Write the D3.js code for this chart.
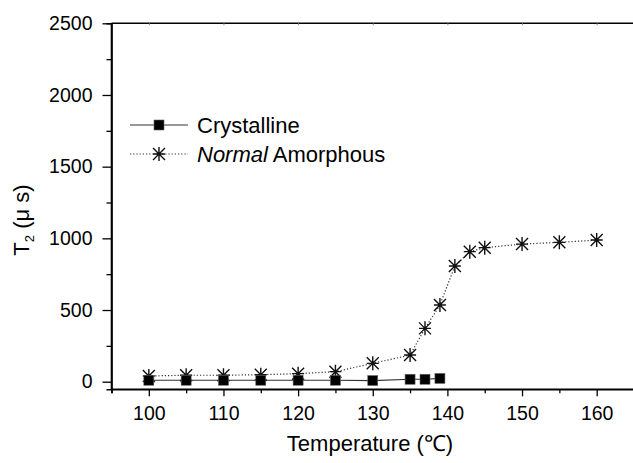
<!DOCTYPE html>
<html>
<head>
<meta charset="utf-8">
<script src="https://cdn.jsdelivr.net/npm/d3@7/dist/d3.min.js"></script>
<style>
  html, body { margin: 0; padding: 0; background: #fff; }
  svg { display: block; font-family: "Liberation Sans", Arial, Helvetica, sans-serif; }
</style>
</head>
<body>
<svg id="chart" width="633" height="463"></svg>
<script>
// Temperature points (°C)
const crystTemps = [100, 105, 110, 115, 120, 125, 130, 135, 137, 139];
const crystT2    = [10, 10, 10, 10, 10, 10, 8, 17, 17, 23];

const amorTemps = [100, 105, 110, 115, 120, 125, 130, 135, 137, 139, 141, 143, 145, 150, 155, 160];
const amorT2    = [40, 45, 45, 49, 56, 70, 128, 186, 372, 535, 807, 907, 935, 960, 972, 988];

const xMajorTicks = [100, 110, 120, 130, 140, 150, 160];
const xMinorTicks = [95, 105, 115, 125, 135, 145, 155, 165];
const yMajorTicks = [0, 500, 1000, 1500, 2000, 2500];
const yMinorTicks = [250, 750, 1250, 1750, 2250];

const FONT = '"Liberation Sans", Arial, Helvetica, sans-serif';
const svg = d3.select("#chart");

const x = d3.scaleLinear().domain([95, 165]).range([111.5, 634]);
const y = d3.scaleLinear().domain([-53, 2500]).range([389.3, 23.3]);

const axisColor = "#000";

// bottom axis: minor then major ticks
const gxMinor = svg.append("g").attr("transform", `translate(0,${y.range()[0]})`)
  .call(d3.axisBottom(x).tickValues(xMinorTicks).tickSize(4).tickFormat(""));
const gx = svg.append("g").attr("transform", `translate(0,${y.range()[0]})`)
  .call(d3.axisBottom(x).tickValues(xMajorTicks).tickSize(7).tickPadding(10).tickFormat(d3.format("d")));

// left axis
const gyMinor = svg.append("g").attr("transform", `translate(${x.range()[0]},0)`)
  .call(d3.axisLeft(y).tickValues(yMinorTicks).tickSize(5).tickFormat(""));
const gy = svg.append("g").attr("transform", `translate(${x.range()[0]},0)`)
  .call(d3.axisLeft(y).tickValues(yMajorTicks).tickSize(9).tickPadding(10).tickFormat(d3.format("d")));

[gxMinor, gx, gyMinor, gy].forEach(g => {
  g.attr("font-family", FONT).attr("font-size", 19.5);
  g.select(".domain").attr("stroke", axisColor).attr("stroke-width", 1.6);
  g.selectAll(".tick line").attr("stroke", axisColor).attr("stroke-width", 1.3);
  g.selectAll(".tick text").attr("fill", "#000");
});
gx.select(".domain").attr("d", `M${x.range()[0]},0H${x.range()[1]}`);
gy.select(".domain").attr("d", `M0,${y.range()[0]}V${y.range()[1]}`);

// top frame line with tiny inner ticks
const gTop = svg.append("g").attr("transform", `translate(0,${y.range()[1]})`)
  .call(d3.axisTop(x).tickValues(xMajorTicks).tickSize(-2).tickFormat(""));
gTop.select(".domain").attr("d", `M${x.range()[0]},0H${x.range()[1]}`)
  .attr("stroke", axisColor).attr("stroke-width", 1.6);
gTop.selectAll(".tick line").attr("stroke", "#888").attr("stroke-width", 1);

// axis titles
svg.append("text")
  .attr("x", 370).attr("y", 451)
  .attr("text-anchor", "middle")
  .style("font-size", "22px")
  .text("Temperature (\u2103)");

const yTitle = svg.append("text")
  .attr("transform", "translate(29,220) rotate(-90)")
  .attr("text-anchor", "middle")
  .style("font-size", "22px");
yTitle.append("tspan").text("T");
yTitle.append("tspan").attr("dy", 5).style("font-size", "13px").text("2");
yTitle.append("tspan").attr("dy", -5).text(" (\u03bc s)");

// series lines
const crystData = crystTemps.map((t, i) => ({ t, v: crystT2[i] }));
const amorData = amorTemps.map((t, i) => ({ t, v: amorT2[i] }));
const line = d3.line().x(d => x(d.t)).y(d => y(d.v));

svg.append("path").datum(crystData).attr("d", line)
  .attr("fill", "none").attr("stroke", "#333").attr("stroke-width", 1.2);
svg.append("path").datum(amorData).attr("d", line)
  .attr("fill", "none").attr("stroke", "#333").attr("stroke-width", 1.2)
  .attr("stroke-dasharray", "1.2,2");

// markers
function square(g, cx, cy) {
  g.append("rect").attr("x", cx - 5).attr("y", cy - 5).attr("width", 10).attr("height", 10)
    .attr("fill", "#000").attr("stroke", "#666").attr("stroke-width", 0.6);
}
function star(g, cx, cy) {
  const r = 6;
  const p = `M${cx - r},${cy - r}L${cx + r},${cy + r}M${cx - r},${cy + r}L${cx + r},${cy - r}` +
            `M${cx},${cy - r - 1}L${cx},${cy + r + 1}M${cx - r},${cy}L${cx + r},${cy}`;
  g.append("path").attr("d", p).attr("stroke", "#111").attr("stroke-width", 1.4).attr("fill", "none");
}

const markers = svg.append("g");
amorData.forEach(d => star(markers, x(d.t), y(d.v)));
crystData.forEach(d => square(markers, x(d.t), y(d.v)));

// legend
const leg = svg.append("g");
leg.append("line").attr("x1", 130).attr("x2", 188).attr("y1", 125).attr("y2", 125)
  .attr("stroke", "#333").attr("stroke-width", 1.2);
square(leg, 159, 125);
leg.append("text").attr("x", 197).attr("y", 133).style("font-size", "22px").text("Crystalline");

leg.append("line").attr("x1", 130).attr("x2", 188).attr("y1", 154).attr("y2", 154)
  .attr("stroke", "#333").attr("stroke-width", 1.2).attr("stroke-dasharray", "1.2,2");
star(leg, 159, 154);
const t2 = leg.append("text").attr("x", 197).attr("y", 162).style("font-size", "22px");
t2.append("tspan").style("font-style", "italic").text("Normal");
t2.append("tspan").text(" Amorphous");
</script>
</body>
</html>
